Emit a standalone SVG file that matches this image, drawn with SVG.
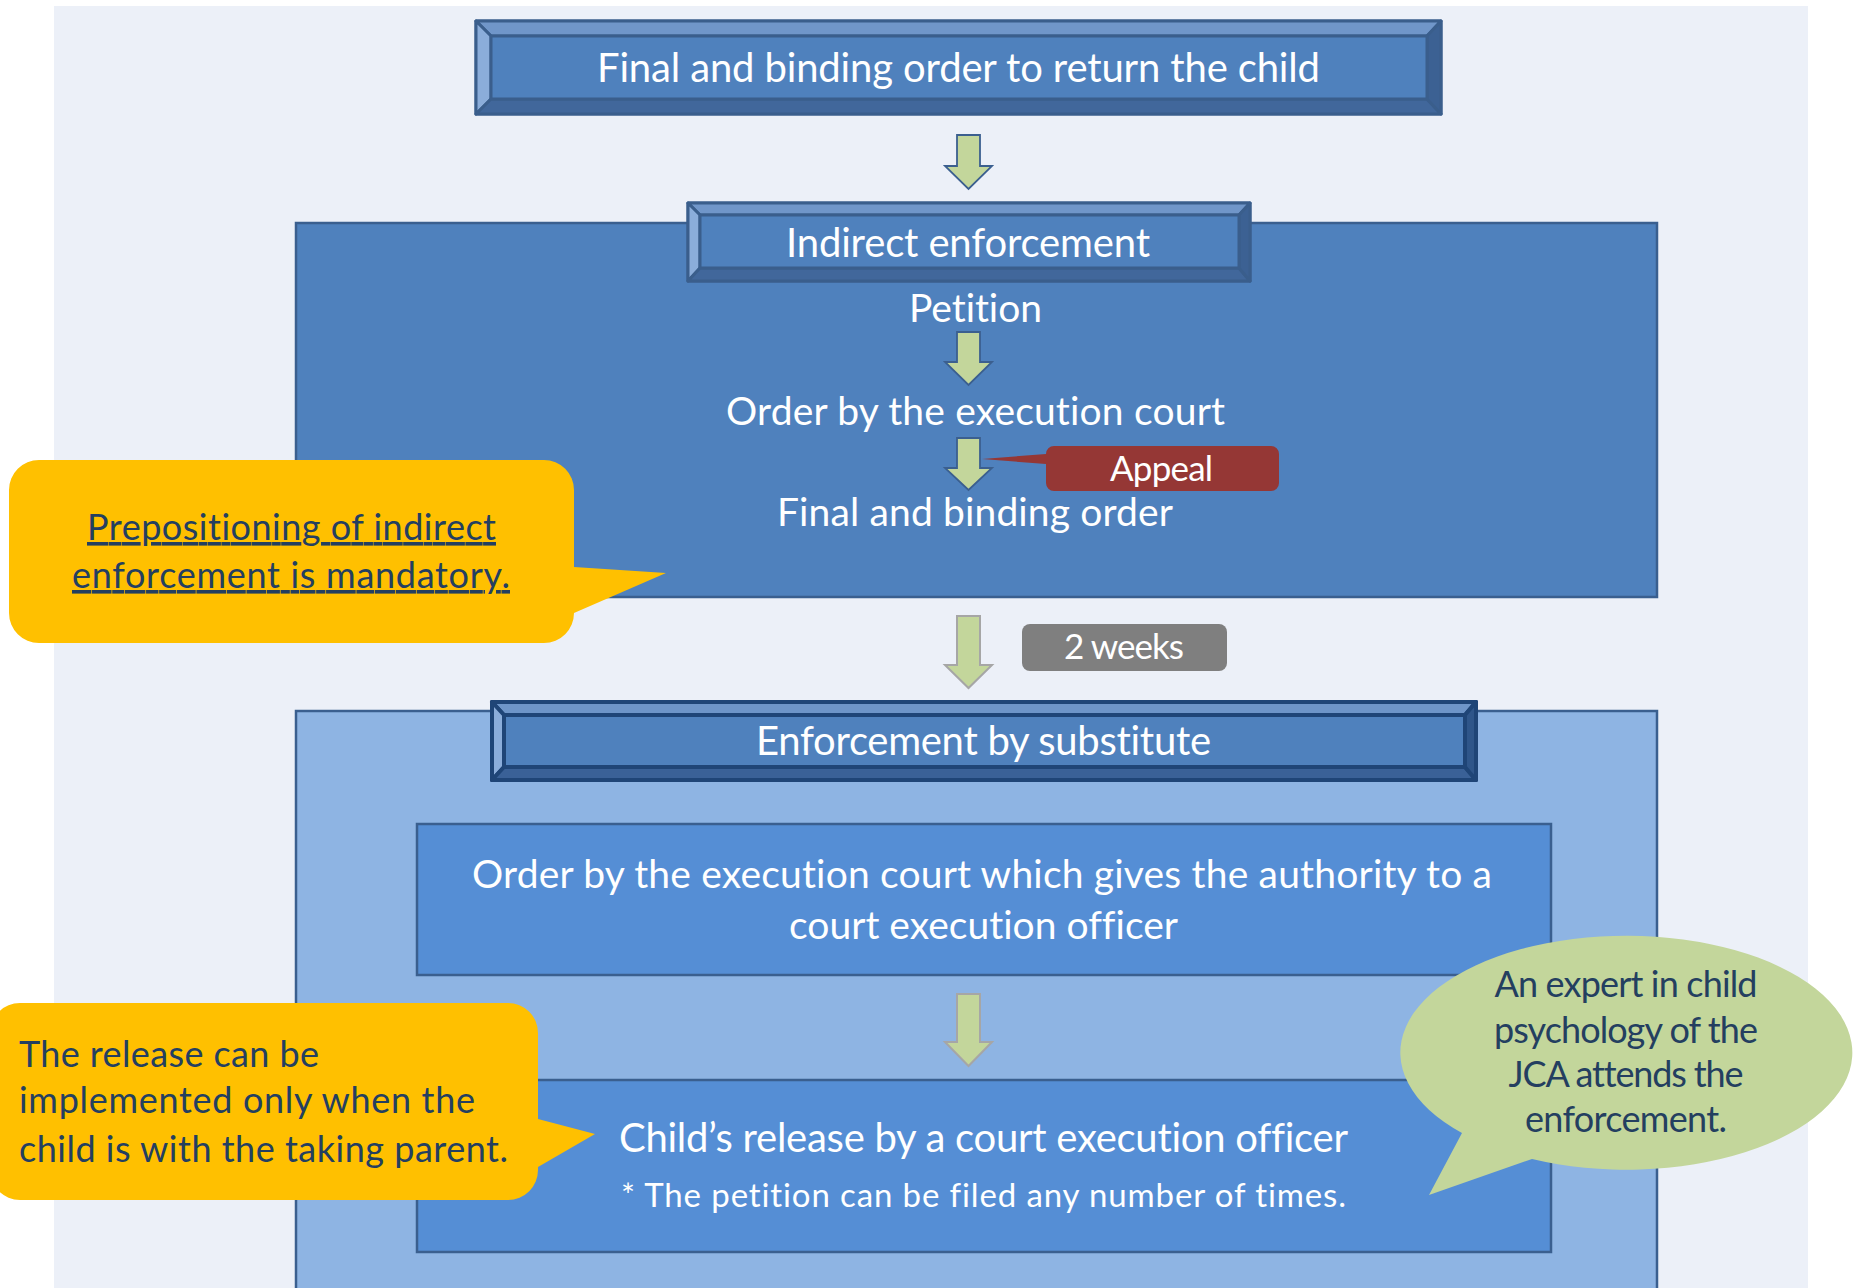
<svg xmlns="http://www.w3.org/2000/svg" width="1866" height="1288" viewBox="0 0 1866 1288">
  <defs>
    <style>
      text { font-variant-ligatures: none; }
      .t { font-family: Lato, "Open Sans", "Liberation Sans", sans-serif; fill: #FFFFFF; }
      .h { font-size: 40px; }
      .m { font-size: 39px; }
      .s { font-size: 35px; }
      .note { font-family: Lato, "Open Sans", "Liberation Sans", sans-serif; fill: #243F60; font-size: 36px; }
      .bevel-a .edge { stroke: #3A5E8C; stroke-width: 3; stroke-linejoin: round; }
      .bevel-b .edge { stroke: #1F4577; stroke-width: 4; stroke-linejoin: round; }
      .face { fill: #4F81BD; }
      .bevel-a .top { fill: #7096C9; } .bevel-a .lft { fill: #8BADDA; }
      .bevel-a .bot { fill: #41679B; } .bevel-a .rgt { fill: #3C6193; }
      .bevel-b .top { fill: #6E95C8; } .bevel-b .lft { fill: #8BADDA; }
      .bevel-b .bot { fill: #3A6197; } .bevel-b .rgt { fill: #2F568A; }
      .panel { stroke: #3A5F8F; stroke-width: 2.5; }
      .box { fill: #558ED5; stroke: #3A5F8F; stroke-width: 2.5; }
      .arrow-dark { fill: #C3D69B; stroke: #3B5F8F; stroke-width: 1.8; stroke-linejoin: miter; }
      .arrow-gray { fill: #C3D69B; stroke: #A6A6A6; stroke-width: 2; stroke-linejoin: miter; }
      .yellow { fill: #FFC000; }
    </style>
  </defs>

  <!-- page -->
  <rect x="0" y="0" width="1866" height="1288" fill="#FFFFFF"/>
  <rect x="54" y="6" width="1754" height="1282" fill="#ECF0F8"/>

  <!-- section panels -->
  <g id="panel-indirect">
    <rect class="panel" x="296" y="223" width="1361" height="374" fill="#4F81BD"/>
  </g>
  <g id="panel-substitute">
    <rect class="panel" x="296" y="711" width="1361" height="600" fill="#8EB4E3"/>
  </g>

  <!-- bevelled header: final order -->
  <g id="node-final-order" class="bevel-a">
    <rect class="edge face" x="476" y="21" width="965" height="93"/>
    <polygon class="edge top" points="476,21 1441,21 1427,36 491,36"/>
    <polygon class="edge lft" points="476,21 491,36 491,99 476,114"/>
    <polygon class="edge bot" points="476,114 491,99 1427,99 1441,114"/>
    <polygon class="edge rgt" points="1441,21 1441,114 1427,99 1427,36"/>
    <rect class="edge face" x="491" y="36" width="936" height="63"/>
    <text class="t h" x="597" y="82" textLength="723">Final and binding order to return the child</text>
  </g>

  <!-- bevelled header: indirect enforcement -->
  <g id="node-indirect" class="bevel-a">
    <rect class="edge face" x="688" y="203" width="562" height="78"/>
    <polygon class="edge top" points="688,203 1250,203 1239,215 700,215"/>
    <polygon class="edge lft" points="688,203 700,215 700,268 688,281"/>
    <polygon class="edge bot" points="688,281 700,268 1239,268 1250,281"/>
    <polygon class="edge rgt" points="1250,203 1250,281 1239,268 1239,215"/>
    <rect class="edge face" x="700" y="215" width="539" height="53"/>
    <text class="t h" x="786" y="257" textLength="364">Indirect enforcement</text>
  </g>

  <g id="node-petition">
    <text class="t m" x="909" y="322" textLength="133">Petition</text>
  </g>
  <g id="node-order-court">
    <text class="t m" x="726" y="425" textLength="499">Order by the execution court</text>
  </g>
  <g id="node-final-binding">
    <text class="t m" x="777" y="526" textLength="396">Final and binding order</text>
  </g>

  <!-- bevelled header: enforcement by substitute -->
  <g id="node-substitute" class="bevel-b">
    <rect class="edge face" x="492" y="702" width="984" height="78"/>
    <polygon class="edge top" points="492,702 1476,702 1465,715 504,715"/>
    <polygon class="edge lft" points="492,702 504,715 504,767 492,780"/>
    <polygon class="edge bot" points="492,780 504,767 1465,767 1476,780"/>
    <polygon class="edge rgt" points="1476,702 1476,780 1465,767 1465,715"/>
    <rect class="edge face" x="504" y="715" width="961" height="52"/>
    <text class="t h" x="756" y="755" textLength="455">Enforcement by substitute</text>
  </g>

  <g id="node-authority-order">
    <rect class="box" x="417" y="824" width="1134" height="151"/>
    <text class="t m" x="472" y="888" textLength="1020">Order by the execution court which gives the authority to a</text>
    <text class="t m" x="789" y="939" textLength="389">court execution officer</text>
  </g>

  <g id="node-release">
    <rect class="box" x="417" y="1080" width="1134" height="172"/>
    <text class="t h" x="619" y="1152" textLength="729">Child’s release by a court execution officer</text>
    <text class="t" x="621" y="1207" font-size="33" textLength="725">* The petition can be filed any number of times.</text>
  </g>

  <!-- connectors: block arrows -->
  <g id="connectors">
    <path class="arrow-dark" d="M957,135 H980 V166 H992 L968.5,189 L945,166 H957 Z"/>
    <path class="arrow-dark" d="M957,332 H980 V362 H992 L968.5,385 L945,362 H957 Z"/>
    <path class="arrow-dark" d="M957,438 H980 V468 H992 L968.5,490 L945,468 H957 Z"/>
    <path class="arrow-gray" d="M957,616 H980 V665 H992 L968.5,688 L945,665 H957 Z"/>
    <path class="arrow-gray" d="M957,994 H980 V1042 H992 L968.5,1066 L945,1042 H957 Z"/>
  </g>

  <!-- labels on the flow -->
  <g id="label-appeal">
    <path d="M1054,446 H1271 A8 8 0 0 1 1279,454 V483 A8 8 0 0 1 1271,491 H1054 A8 8 0 0 1 1046,483 V464 L982,459 L1046,454 A8 8 0 0 1 1054,446 Z" fill="#953735"/>
    <text class="t s" x="1110" y="481" textLength="103">Appeal</text>
  </g>
  <g id="label-two-weeks">
    <rect x="1022" y="624" width="205" height="47" rx="8" fill="#7F7F7F"/>
    <text class="t s" x="1064" y="659" textLength="120">2 weeks</text>
  </g>

  <!-- callouts -->
  <g id="callout-prepositioning">
    <path class="yellow" d="M39,460 H544 A30 30 0 0 1 574,490 V567 L666,573 L574,613 A30 30 0 0 1 544,643 H39 A30 30 0 0 1 9,613 V490 A30 30 0 0 1 39,460 Z"/>
    <text class="note" x="87" y="540" textLength="409" text-decoration="underline">Prepositioning of indirect</text>
    <text class="note" x="72" y="588" textLength="438" text-decoration="underline">enforcement is mandatory.</text>
  </g>

  <g id="callout-release-condition">
    <path class="yellow" d="M20,1003 H508 A30 30 0 0 1 538,1033 V1119 L595,1134 L538,1167 V1170 A30 30 0 0 1 508,1200 H20 A30 30 0 0 1 -10,1170 V1033 A30 30 0 0 1 20,1003 Z"/>
    <text class="note" x="19" y="1067" textLength="300">The release can be</text>
    <text class="note" x="19" y="1113" textLength="456">implemented only when the</text>
    <text class="note" x="19" y="1162" textLength="489">child is with the taking parent.</text>
  </g>

  <g id="callout-expert">
    <path d="M1532,1159 L1429,1195 L1462,1133 A226 117 0 1 1 1532,1159 Z" fill="#C3D69B"/>
    <g class="note" font-size="30.5" text-anchor="middle">
      <text x="1626" y="997" textLength="263">An expert in child</text>
      <text x="1626" y="1043" textLength="264">psychology of the</text>
      <text x="1626" y="1087" textLength="235">JCA attends the</text>
      <text x="1626" y="1132" textLength="202">enforcement.</text>
    </g>
  </g>
</svg>
